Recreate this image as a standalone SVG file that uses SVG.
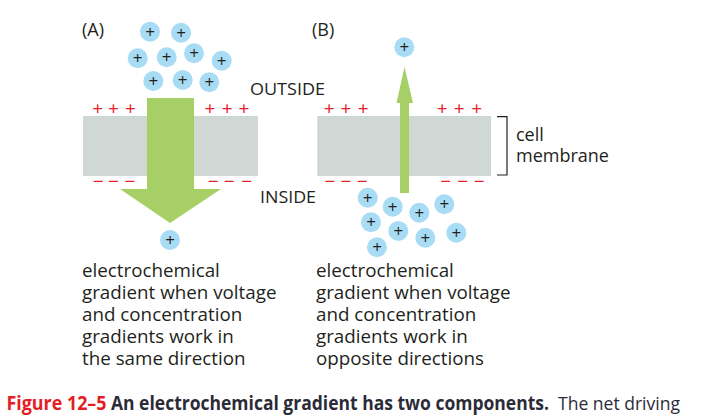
<svg xmlns="http://www.w3.org/2000/svg" width="708" height="419" viewBox="0 0 708 419">
<style>
.lbl{font-family:"Open Sans","Noto Sans","DejaVu Sans",sans-serif;fill:#231f20}
.body{font-size:18.8px}
.ion{fill:#a8dcf5}
.ionp{font-family:"Open Sans","DejaVu Sans",sans-serif;font-size:17px;fill:#231f20;text-anchor:middle}
.rp{font-family:"Open Sans","DejaVu Sans",sans-serif;font-size:19px;fill:#e5202b;text-anchor:middle}
.mem{fill:#cfd8d4}
.arr{fill:#a6d066}
.cap{font-family:"Liberation Sans Narrow","Open Sans","Liberation Sans",sans-serif;font-size:19px}
</style>
<defs>
<g id="ionA"><circle r="10" class="ion"/><text class="ionp" y="6">+</text></g>
</defs>
<rect width="708" height="419" fill="#ffffff"/>

<g id="panelA">
<text class="lbl" x="82" y="36" font-size="18">(A)</text>
<rect id="membraneA" class="mem" x="83" y="116" width="175" height="60"/>
<g id="chargesA">
<text class="rp" x="97.7" y="114.5">+</text><text class="rp" x="113.5" y="114.5">+</text><text class="rp" x="130.5" y="114.5">+</text>
<text class="rp" x="210" y="114.5">+</text><text class="rp" x="227.3" y="114.5">+</text><text class="rp" x="244" y="114.5">+</text>
<text class="rp" x="98.3" y="187.5">−</text><text class="rp" x="113.5" y="187.5">−</text><text class="rp" x="130" y="187.5">−</text>
<text class="rp" x="213.3" y="187.5">−</text><text class="rp" x="229.3" y="187.5">−</text><text class="rp" x="246.7" y="187.5">−</text>
</g>
<polygon id="arrowA" class="arr" points="147,98 194,98 194,189 221,189 170,223 120,189 147,189"/>
<g id="ionsA">
<use href="#ionA" x="150" y="31.7"/>
<use href="#ionA" x="181" y="32.7"/>
<use href="#ionA" x="137.7" y="58.3"/>
<use href="#ionA" x="166.7" y="57.3"/>
<use href="#ionA" x="194" y="53.3"/>
<use href="#ionA" x="221.7" y="60.7"/>
<use href="#ionA" x="153.3" y="81"/>
<use href="#ionA" x="182.7" y="80"/>
<use href="#ionA" x="209.3" y="82.3"/>
<use href="#ionA" x="170" y="240"/>
</g>
<text class="lbl body" x="82" y="277">electrochemical<tspan x="82" dy="22">gradient when voltage</tspan><tspan x="82" dy="22">and concentration</tspan><tspan x="82" dy="22">gradients work in</tspan><tspan x="82" dy="22">the same direction</tspan></text>
</g>

<g id="labels">
<text class="lbl" x="250" y="95" font-size="16" textLength="75" lengthAdjust="spacingAndGlyphs">OUTSIDE</text>
<text class="lbl" x="260" y="203" font-size="16" textLength="56" lengthAdjust="spacingAndGlyphs">INSIDE</text>
<path d="M497,116.7 H507 V175 H497" fill="none" stroke="#231f20" stroke-width="1.2"/>
<text class="lbl" x="516" y="141" font-size="18">cell<tspan x="516" dy="21">membrane</tspan></text>
</g>

<g id="panelB">
<text class="lbl" x="312" y="36" font-size="18">(B)</text>
<rect id="membraneB" class="mem" x="317.3" y="116" width="173.7" height="60"/>
<g id="chargesB">
<text class="rp" x="329.3" y="114.5">+</text><text class="rp" x="346" y="114.5">+</text><text class="rp" x="363.3" y="114.5">+</text>
<text class="rp" x="442.3" y="114.5">+</text><text class="rp" x="459.3" y="114.5">+</text><text class="rp" x="476.7" y="114.5">+</text>
<text class="rp" x="330" y="187.8">−</text><text class="rp" x="346" y="187.8">−</text><text class="rp" x="362.3" y="187.8">−</text>
<text class="rp" x="445.7" y="187.8">−</text><text class="rp" x="462.7" y="187.8">−</text><text class="rp" x="479.3" y="187.8">−</text>
</g>
<polygon id="arrowB" class="arr" points="400,193 409,193 409,103 413,103 404.5,67 396.5,103 400,103"/>
<g id="ionsB">
<use href="#ionA" x="404.3" y="47.3"/>
<use href="#ionA" x="367.7" y="197.7"/>
<use href="#ionA" x="392.7" y="206.7"/>
<use href="#ionA" x="419.3" y="212.7"/>
<use href="#ionA" x="444.3" y="204.3"/>
<use href="#ionA" x="371" y="222.3"/>
<use href="#ionA" x="398.3" y="231"/>
<use href="#ionA" x="425.3" y="237.7"/>
<use href="#ionA" x="456.3" y="232.7"/>
<use href="#ionA" x="377" y="247.3"/>
</g>
<text class="lbl body" x="316" y="277">electrochemical<tspan x="316" dy="22">gradient when voltage</tspan><tspan x="316" dy="22">and concentration</tspan><tspan x="316" dy="22">gradients work in</tspan><tspan x="316" dy="22">opposite directions</tspan></text>
</g>

<g id="caption">
<text class="cap" x="6.5" y="410" font-weight="bold" fill="#e31e24" textLength="100" lengthAdjust="spacingAndGlyphs">Figure 12–5</text>
<text class="cap" x="111" y="410" font-weight="bold" fill="#2b2b38" textLength="438" lengthAdjust="spacingAndGlyphs">An electrochemical gradient has two components.</text>
<text class="cap" x="558" y="410" fill="#2b2b38" textLength="122" lengthAdjust="spacingAndGlyphs">The net driving</text>
</g>
</svg>
